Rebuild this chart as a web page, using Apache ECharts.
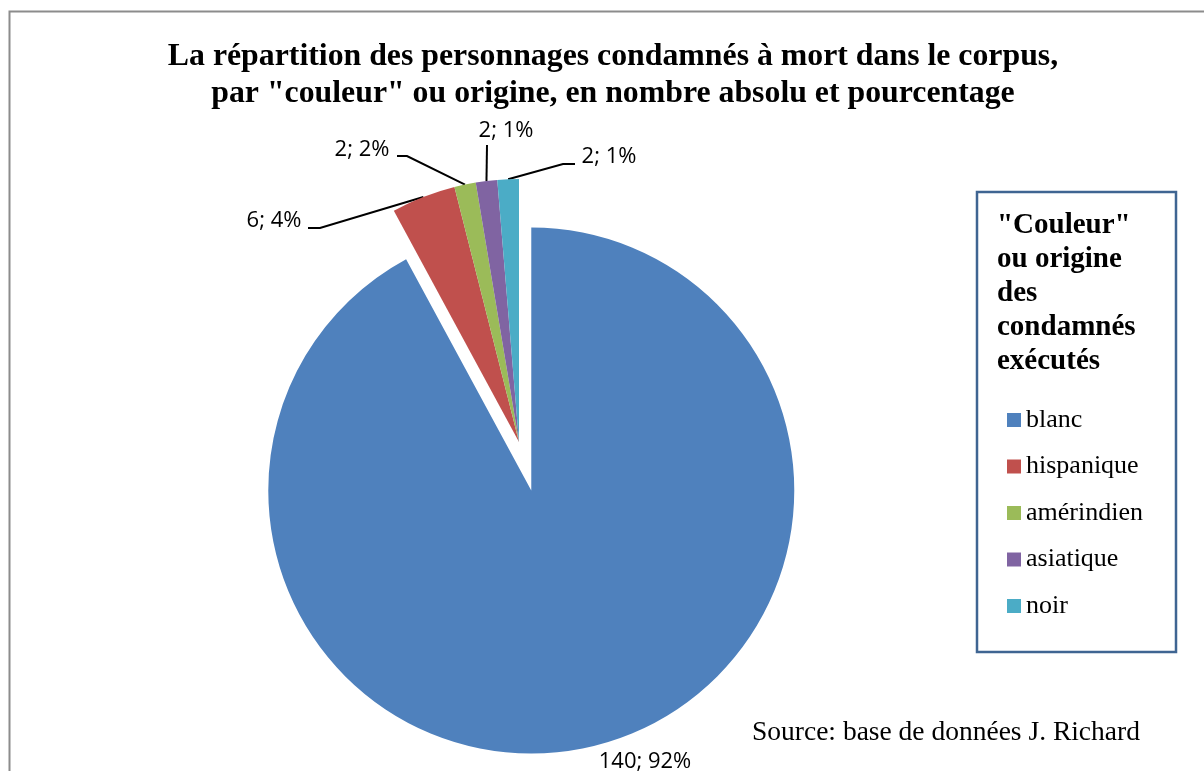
<!DOCTYPE html>
<html>
<head>
<meta charset="utf-8">
<script src="https://cdn.jsdelivr.net/npm/echarts@6/dist/echarts.min.js"></script>
<style>
  html, body { margin: 0; padding: 0; background: #fff; }
  #chart { width: 1204px; height: 771px; }
</style>
</head>
<body>
<div id="chart"></div>
<script>
let chart = echarts.init(document.getElementById('chart'));

// données
let categories = ['blanc', 'hispanique', 'amérindien', 'asiatique', 'noir'];
let counts = [140, 6, 2, 2, 2];
let percents = [92, 4, 2, 1, 1];
let colors = ['#4F81BD', '#C0504D', '#9BBB59', '#8064A2', '#4BACC6'];

// position des étiquettes (centre du texte) et coudes des lignes de rappel
// (la part "blanc", détachée, garde la position calculée par la série)
let labelPos = [null, [274, 221], [362, 150], [506, 131], [609, 157]];
let linePts = [
    null,
    [[320, 228], [308, 228]],
    [[407, 156], [397, 156]],
    [[487, 145]],
    [[563, 164], [575, 164]]
];

let serif = '"Liberation Serif", "Times New Roman", serif';
let sans = '"Open Sans", "Noto Sans", sans-serif';

let pieData = [];
for (let i = 0; i < categories.length; i++) {
    let item = {
        name: categories[i],
        value: counts[i],
        itemStyle: {color: colors[i]}
    };
    if (i === 0) {
        item.selected = true;
        item.labelLine = {show: false, length: 17, length2: 40};
    }
    pieData.push(item);
}

let option = {
    animation: false,
    title: {
        text: 'La répartition des personnages condamnés à mort dans le corpus,\npar "couleur" ou origine, en nombre absolu et pourcentage',
        left: 608,
        textAlign: 'center',
        top: 33,
        textStyle: {
            fontFamily: serif,
            fontWeight: 'bold',
            fontSize: 31.8,
            lineHeight: 37,
            color: '#000'
        }
    },
    legend: {
        orient: 'vertical',
        left: 1002,
        top: 402,
        itemWidth: 14,
        itemHeight: 14,
        itemGap: 20.5,
        icon: 'rect',
        selectedMode: false,
        data: categories,
        textStyle: {
            fontFamily: serif,
            fontSize: 26,
            lineHeight: 26,
            color: '#000'
        }
    },
    graphic: [
        {
            type: 'rect',
            silent: true,
            shape: {x: 9.5, y: 11.5, width: 1220, height: 800},
            style: {fill: 'none', stroke: '#8C8C8C', lineWidth: 2}
        },
        {
            type: 'rect',
            silent: true,
            shape: {x: 977, y: 192, width: 199, height: 460},
            style: {fill: '#fff', stroke: '#3F6592', lineWidth: 2.5},
            z: 0
        },
        {
            type: 'text',
            silent: true,
            left: 997,
            top: 209,
            style: {
                text: '"Couleur"\nou origine\ndes\ncondamnés\nexécutés',
                fontFamily: serif,
                fontWeight: 'bold',
                fontSize: 29,
                lineHeight: 34,
                fill: '#000'
            }
        },
        {
            type: 'text',
            silent: true,
            left: 752,
            top: 718,
            style: {
                text: 'Source: base de données J. Richard',
                fontFamily: serif,
                fontSize: 27.5,
                lineHeight: 30,
                fill: '#000'
            }
        }
    ],
    series: [
        {
            type: 'pie',
            center: [519, 442],
            radius: 263,
            startAngle: 90,
            clockwise: true,
            selectedMode: 'single',
            selectedOffset: 50,
            emphasis: {disabled: true},
            avoidLabelOverlap: false,
            label: {
                show: true,
                position: 'outside',
                fontFamily: sans,
                fontSize: 22,
                color: '#000',
                formatter: function (p) {
                    return counts[p.dataIndex] + '; ' + percents[p.dataIndex] + '%';
                }
            },
            labelLine: {
                show: true,
                length: 10,
                length2: 10,
                lineStyle: {color: '#000', width: 2}
            },
            labelLayout: function (p) {
                let i = p.dataIndex;
                let res = {align: 'center', verticalAlign: 'middle'};
                if (labelPos[i]) {
                    res.x = labelPos[i][0];
                    res.y = labelPos[i][1];
                }
                if (linePts[i] && p.labelLinePoints) {
                    res.labelLinePoints = [p.labelLinePoints[0]].concat(linePts[i]);
                }
                return res;
            },
            data: pieData
        }
    ]
};

chart.setOption(option);
</script>
</body>
</html>
